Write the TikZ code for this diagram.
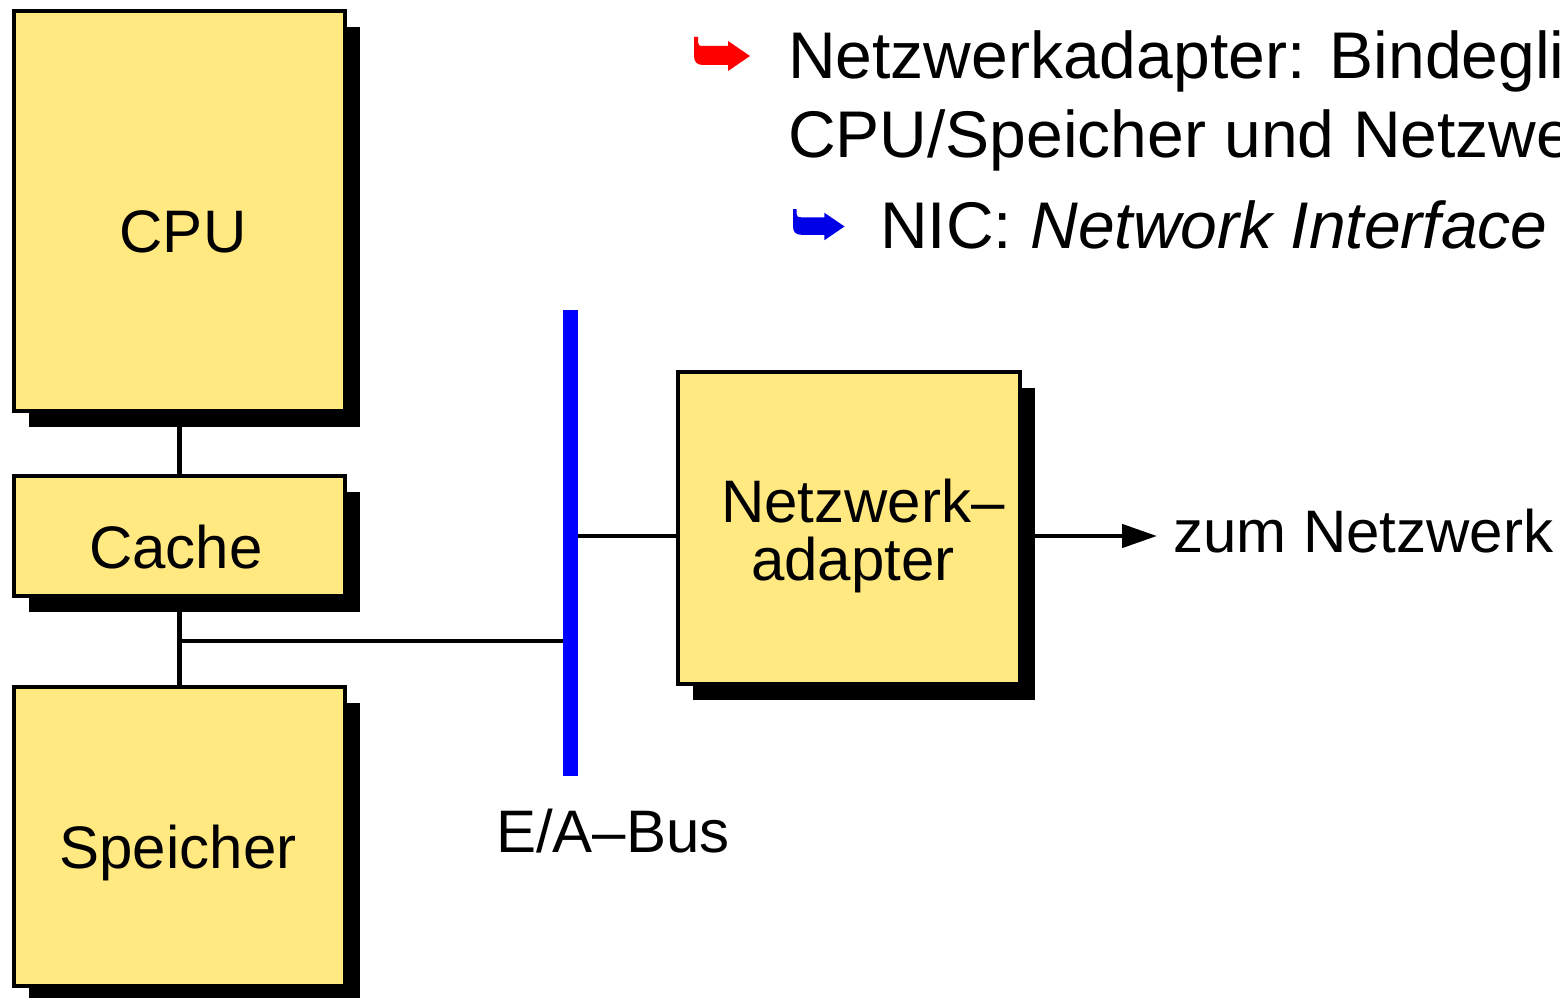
\documentclass[tikz,border=0pt]{standalone}
\usepackage{fontspec}
\setmainfont{Liberation Sans}
\usetikzlibrary{shadows,arrows.meta}
\definecolor{boxyellow}{RGB}{255,233,128}
\definecolor{busblue}{RGB}{0,0,255}
\definecolor{hookred}{RGB}{255,0,0}
\definecolor{hookblue}{RGB}{0,0,230}
\begin{document}
\begin{tikzpicture}[x=1pt,y=-1pt,
 box/.style={draw=black, line width=4.4pt, fill=boxyellow, inner sep=0pt,
   drop shadow={shadow xshift=15pt, shadow yshift=-16pt, fill=black, opacity=1}},
 lbl/.style={font=\fontsize{60}{60}\selectfont, inner sep=0pt, anchor=base},
 bul/.style={font=\fontsize{66}{66}\selectfont, inner sep=0pt, anchor=base west},
 conn/.style={line width=4.5pt},
 pics/hookarrow/.style={code={\fill[#1] (0,0) -- (4,0) -- (4,5) .. controls (4,8) and (5,9) .. (9,9) -- (34,9) -- (34,4) -- (56,19) -- (34,34) -- (34,28) -- (9,28) .. controls (3,28) and (0,25) .. (0,19) -- cycle;}}
]
\useasboundingbox (0,0) rectangle (1560,998);

% boxes
\node[box, minimum width=331pt, minimum height=400pt] (cpu) at (179.5,211) {};
\node[box, minimum width=331pt, minimum height=120pt] (cache) at (179.5,536) {};
\node[box, minimum width=331pt, minimum height=299pt] (mem) at (179.5,836.5) {};
\node[box, minimum width=342pt, minimum height=312pt] (nic) at (849,528) {};
\node[fill=busblue, inner sep=0pt, minimum width=15pt, minimum height=466pt] (bus) at (570.5,543) {};

% connectors
\draw[conn] (cpu.south) -- (cache.north);
\draw[conn] (cache.south) -- (mem.north);
\coordinate (j) at (179.5,641);
\draw[conn] (j) -- (j -| bus.west);
\coordinate (k) at (578,536);
\draw[conn] (k -| bus.east) -- (k -| nic.west);
\coordinate (tip) at (1157,536);
\draw[conn, -{Triangle[length=35pt,width=23pt]}] (k -| nic.east) -- (tip);

% labels
\node[lbl] (cputxt) at (183,252) {CPU};
\node[lbl] (cachetxt) at (176,568) {Cache};
\node[lbl] (memtxt) at (178,868) {Speicher};
\node[lbl] (nictxt1) at (863,522) {Netzwerk–};
\node[lbl] (nictxt2) at (853,580) {adapter};
\node[lbl, anchor=base west] (znet) at (1173,552) {zum Netzwerk};
\node[lbl] (bustxt) at (613,852) {E/A–Bus};

% bullets
\pic at (694,37) {hookarrow=hookred};
\node[bul] (b1a) at (788,78) {Netzwerkadapter: Bindegli};
\node[bul] (b1b) at (788,157) {CPU/Speicher und Netzwe};
\pic[scale=0.92] at (793,209) {hookarrow=hookblue};
\node[bul] (b2) at (880,248) {NIC: \textit{Network Interface}};
\end{tikzpicture}
\end{document}
